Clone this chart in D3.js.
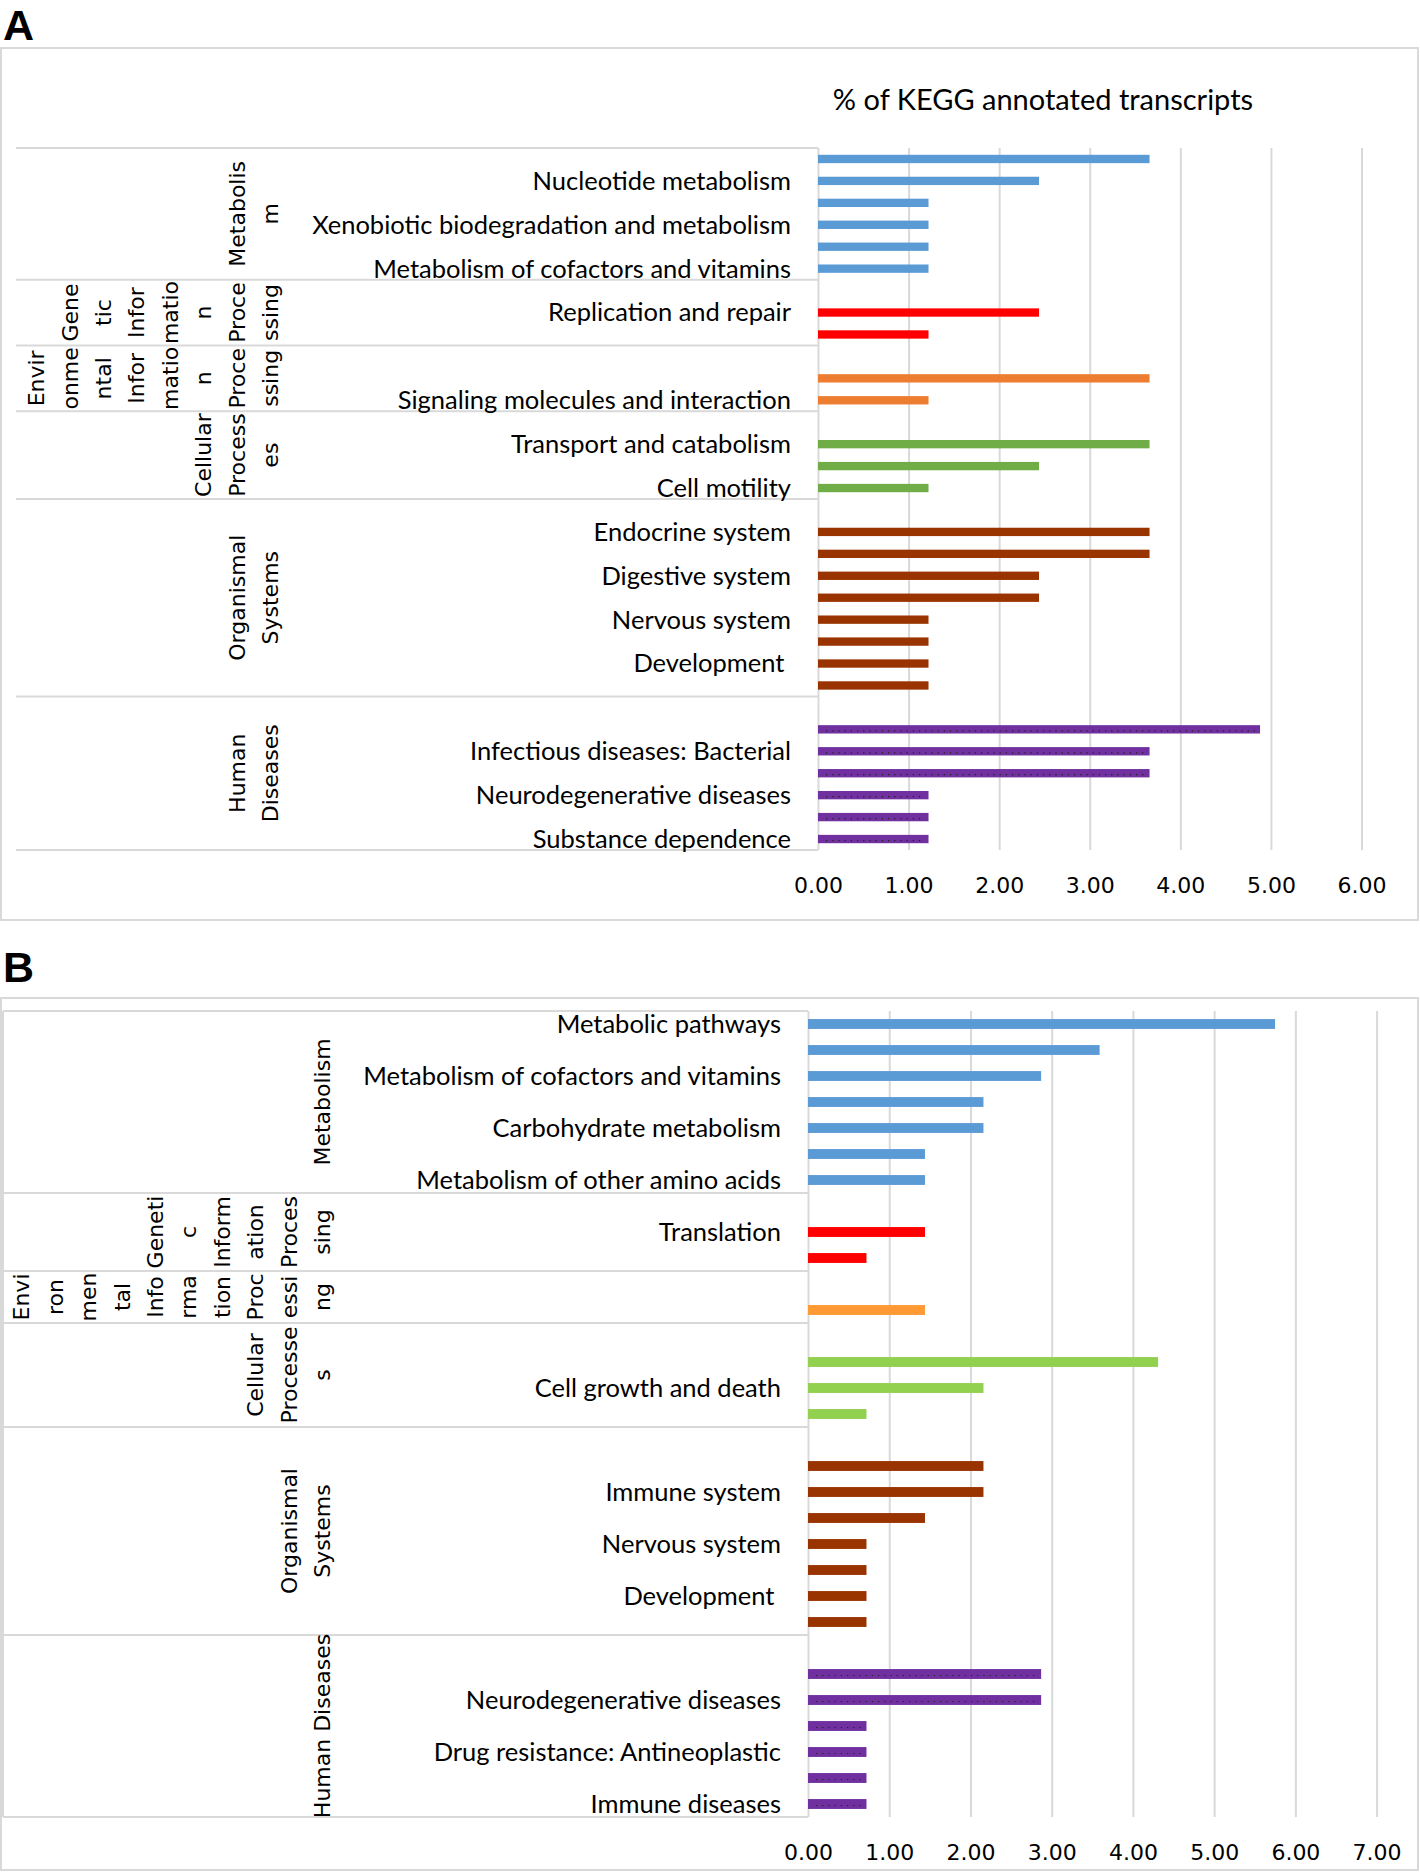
<!DOCTYPE html>
<html>
<head>
<meta charset="utf-8">
<script src="https://cdn.jsdelivr.net/npm/d3@7"></script>
<style>
  body { margin: 0; background: #fff; }
  svg { display: block; }
</style>
</head>
<body>
<svg id="chart" width="1420" height="1873"></svg>
<script>
// ---- panel A data ----
const groupsA = ['Metabolism', 'Genetic Information Processing', 'Environmental Information Processing',
  'Cellular Processes', 'Organismal Systems', 'Human Diseases']
const groupLinesA = [
  ['Metabolis', 'm'],
  ['Gene', 'tic', 'Infor', 'matio', 'n', 'Proce', 'ssing'],
  ['Envir', 'onme', 'ntal', 'Infor', 'matio', 'n', 'Proce', 'ssing'],
  ['Cellular', 'Process', 'es'],
  ['Organismal', 'Systems'],
  ['Human', 'Diseases']
]
const labelsA = [
  ['', 'Nucleotide metabolism', '', 'Xenobiotic biodegradation and metabolism', '', 'Metabolism of cofactors and vitamins'],
  ['', 'Replication and repair', ''],
  ['', '', 'Signaling molecules and interaction'],
  ['', 'Transport and catabolism', '', 'Cell motility'],
  ['', 'Endocrine system', '', 'Digestive system', '', 'Nervous system', '', 'Development ', ''],
  ['', '', 'Infectious diseases: Bacterial', '', 'Neurodegenerative diseases', '', 'Substance dependence']
]
const valuesA = [
  [3.66, 2.44, 1.22, 1.22, 1.22, 1.22],
  [null, 2.44, 1.22],
  [null, 3.66, 1.22],
  [null, 3.66, 2.44, 1.22],
  [null, 3.66, 3.66, 2.44, 2.44, 1.22, 1.22, 1.22, 1.22],
  [null, 4.88, 3.66, 3.66, 1.22, 1.22, 1.22]
]
const colorsA = ['#5b9bd5', '#ff0000', '#ed7d31', '#70ad47', '#993300', '#7030a0']
const ticksA = [0, 1, 2, 3, 4, 5, 6]

// ---- panel B data ----
const groupsB = groupsA
const groupLinesB = [
  ['Metabolism'],
  ['Geneti', 'c', 'Inform', 'ation', 'Proces', 'sing'],
  ['Envi', 'ron', 'men', 'tal', 'Info', 'rma', 'tion', 'Proc', 'essi', 'ng'],
  ['Cellular', 'Processe', 's'],
  ['Organismal', 'Systems'],
  ['Human Diseases']
]
const labelsB = [
  ['Metabolic pathways', '', 'Metabolism of cofactors and vitamins', '', 'Carbohydrate metabolism', '', 'Metabolism of other amino acids'],
  ['', 'Translation', ''],
  ['', ''],
  ['', '', 'Cell growth and death', ''],
  ['', '', 'Immune system', '', 'Nervous system', '', 'Development ', ''],
  ['', '', 'Neurodegenerative diseases', '', 'Drug resistance: Antineoplastic', '', 'Immune diseases']
]
const valuesB = [
  [5.75, 3.59, 2.87, 2.16, 2.16, 1.44, 1.44],
  [null, 1.44, 0.72],
  [null, 1.44],
  [null, 4.31, 2.16, 0.72],
  [null, 2.16, 2.16, 1.44, 0.72, 0.72, 0.72, 0.72],
  [null, 2.87, 2.87, 0.72, 0.72, 0.72, 0.72]
]
const colorsB = ['#5b9bd5', '#ff0000', '#ff9933', '#92d050', '#993300', '#7030a0']
const ticksB = [0, 1, 2, 3, 4, 5, 6, 7]

const GRID = '#d9d9d9'
const svg = d3.select('#chart')

/**
 * flattens the groups into one row per category
 */
function toRows (groups, labels, values, colors) {
  const rows = []
  groups.forEach((g, gi) => {
    values[gi].forEach((v, i) => {
      rows.push({ group: gi, label: labels[gi][i], value: v, color: colors[gi] })
    })
  })
  return rows
}

/**
 * draws one panel
 */
function drawPanel (p) {
  const rows = toRows(p.groups, p.labels, p.values, p.colors)
  const g = svg.append('g')

  // outer frame
  g.append('rect')
    .attr('x', 1).attr('y', p.boxTop)
    .attr('width', 1417).attr('height', p.boxBottom - p.boxTop)
    .attr('fill', 'none').attr('stroke', GRID).attr('stroke-width', 2)

  g.append('text')
    .attr('x', 3).attr('y', p.letterY)
    .attr('font-family', 'Liberation Sans, Arial, sans-serif')
    .attr('font-weight', 'bold').attr('font-size', 43)
    .text(p.letter)

  const x = d3.scaleLinear().domain([0, p.ticks[p.ticks.length - 1]]).range([p.x0, p.x1])
  const y = d3.scaleBand().domain(d3.range(rows.length)).range([p.top, p.bottom])
  const barH = y.bandwidth() * 0.38

  // gridlines + tick labels
  const axis = g.append('g')
    .attr('transform', `translate(0,${p.bottom})`)
    .call(d3.axisBottom(x).tickValues(p.ticks).tickFormat(d3.format('.2f'))
      .tickSize(-(p.bottom - p.top)).tickPadding(27))
  axis.select('.domain').remove()
  axis.selectAll('line').attr('stroke', GRID).attr('stroke-width', 2)
  axis.selectAll('text')
    .attr('font-family', 'DejaVu Sans, Verdana, sans-serif')
    .attr('font-size', 22).attr('fill', '#000')

  // group separators (multi-level category axis)
  const bounds = [0]
  p.values.forEach((v, i) => bounds.push(bounds[i] + v.length))
  g.selectAll('line.sep').data(bounds).enter().append('line')
    .attr('x1', p.sepLeft).attr('x2', p.x0)
    .attr('y1', d => d === rows.length ? p.bottom : y(d))
    .attr('y2', d => d === rows.length ? p.bottom : y(d))
    .attr('stroke', GRID).attr('stroke-width', 2)
  if (p.leftLine) {
    g.append('line')
      .attr('x1', p.sepLeft).attr('x2', p.sepLeft)
      .attr('y1', p.top).attr('y2', p.bottom)
      .attr('stroke', GRID).attr('stroke-width', 2)
  }

  // rotated group names
  p.groupLines.forEach((lines, gi) => {
    const cy = (y(bounds[gi]) + (bounds[gi + 1] === rows.length ? p.bottom : y(bounds[gi + 1]))) / 2
    lines.forEach((ln, li) => {
      const cx = p.groupX - (lines.length - 1 - li) * 33.4
      g.append('text')
        .attr('transform', `translate(${cx},${cy}) rotate(-90)`)
        .attr('text-anchor', 'middle').attr('dy', '0.36em')
        .attr('font-family', 'DejaVu Sans, Verdana, sans-serif')
        .attr('font-size', 22)
        .text(ln)
    })
  })

  // category labels
  g.selectAll('text.cat').data(rows).enter().append('text')
    .attr('class', 'cat')
    .attr('x', p.labelRight)
    .attr('y', (d, i) => y(i) + y.bandwidth() / 2)
    .attr('dy', '0.35em')
    .attr('text-anchor', 'end')
    .attr('font-family', 'Lato, sans-serif')
    .attr('font-size', 25.5)
    .style('white-space', 'pre')
    .text(d => d.label)

  // bars
  const withVal = rows.map((d, i) => Object.assign({ i }, d)).filter(d => d.value !== null)
  g.selectAll('rect.bar').data(withVal).enter().append('rect')
    .attr('class', 'bar')
    .attr('x', x(0))
    .attr('y', d => y(d.i) + (y.bandwidth() - barH) / 2)
    .attr('width', d => x(d.value) - x(0))
    .attr('height', barH)
    .attr('fill', d => d.color)

  // dotted texture on the purple bars
  g.selectAll('line.dots').data(withVal.filter(d => d.group === 5)).enter().append('line')
    .attr('x1', x(0) + 8).attr('x2', d => x(d.value) - 4)
    .attr('y1', d => y(d.i) + y.bandwidth() / 2 + 1.5)
    .attr('y2', d => y(d.i) + y.bandwidth() / 2 + 1.5)
    .attr('stroke', '#222').attr('stroke-width', 1.2)
    .attr('stroke-dasharray', '1.2,5')

  if (p.title) {
    g.append('text')
      .attr('x', p.titleX).attr('y', p.titleY).attr('dy', '0.35em')
      .attr('text-anchor', 'middle')
      .attr('font-family', 'Lato, sans-serif').attr('font-size', 29)
      .text(p.title)
  }
}

drawPanel({
  letter: 'A', letterY: 39.5, boxTop: 48, boxBottom: 920,
  groups: groupsA, groupLines: groupLinesA, labels: labelsA, values: valuesA, colors: colorsA, ticks: ticksA,
  top: 148, bottom: 850, x0: 818, x1: 1361.5,
  labelRight: 791, sepLeft: 16, leftLine: false, groupX: 270,
  title: '% of KEGG annotated transcripts', titleX: 1043, titleY: 100
})

drawPanel({
  letter: 'B', letterY: 982, boxTop: 998, boxBottom: 1870,
  groups: groupsB, groupLines: groupLinesB, labels: labelsB, values: valuesB, colors: colorsB, ticks: ticksB,
  top: 1011, bottom: 1817, x0: 808, x1: 1376.6,
  labelRight: 781, sepLeft: 3, leftLine: true, groupX: 322
})
</script>
</body>
</html>
